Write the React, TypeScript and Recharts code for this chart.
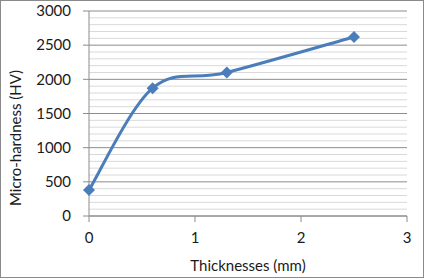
import React from 'react';
import { LineChart, Line, XAxis, YAxis, CartesianGrid, Label, ReferenceLine } from 'recharts';

const thickness = [0, 0.6, 1.3, 2.5];
const hardness = [380, 1870, 2100, 2620];
const xTicks = [0, 1, 2, 3];
const yTicks = [0, 500, 1000, 1500, 2000, 2500, 3000];
const yMinorTicks = Array.from({ length: 31 }, (_, i) => i * 100).filter((v) => v % 500 !== 0);

const data = thickness.map((t, i) => ({ t, hv: hardness[i] }));

const font = 'Lato, "Open Sans", sans-serif';
const blue = '#4A7EBB';
const textColor = '#1a1a1a';

// Excel-like smoothed line (Catmull-Rom style bezier)
const excelSmooth = (context: any) => {
  let pts: number[][] = [];
  return {
    areaStart() {},
    areaEnd() {},
    lineStart() {
      pts = [];
    },
    point(x: number, y: number) {
      pts.push([x, y]);
    },
    lineEnd() {
      if (!pts.length) return;
      context.moveTo(pts[0][0], pts[0][1]);
      for (let i = 0; i < pts.length - 1; i++) {
        const p0 = pts[i - 1] || pts[i];
        const p1 = pts[i];
        const p2 = pts[i + 1];
        const p3 = pts[i + 2] || pts[i + 1];
        context.bezierCurveTo(
          p1[0] + (p2[0] - p0[0]) / 6,
          p1[1] + (p2[1] - p0[1]) / 6,
          p2[0] - (p3[0] - p1[0]) / 6,
          p2[1] - (p3[1] - p1[1]) / 6,
          p2[0],
          p2[1]
        );
      }
    },
  };
};

const Diamond = (props: any) => {
  const { cx, cy, index } = props;
  const r = 6;
  return (
    <polygon
      key={index}
      points={`${cx},${cy - r} ${cx + r},${cy} ${cx},${cy + r} ${cx - r},${cy}`}
      fill={blue}
    />
  );
};

const tickStyle = { fill: textColor, fontSize: 15, fontFamily: font };

export default function App() {
  return (
    <div
      style={{
        position: 'absolute',
        left: 0,
        top: 0,
        width: 424,
        height: 278,
        boxSizing: 'border-box',
        border: '1px solid #8a8a8a',
        background: '#fff',
      }}
    >
      <div style={{ position: 'absolute', left: -1, top: -1 }}>
        <LineChart width={424} height={278} data={data} margin={{ top: 11, right: 17, bottom: 0, left: 0 }}>
          <CartesianGrid yAxisId="main" vertical={false} stroke="#8c8c8c" />
          {yMinorTicks.map((v) => (
            <ReferenceLine key={v} yAxisId="main" y={v} stroke="#d9d9d9" />
          ))}
          <XAxis
            dataKey="t"
            type="number"
            domain={[0, 3]}
            ticks={xTicks}
            height={62}
            stroke="#8c8c8c"
            tickSize={6}
            tickMargin={10}
            tick={tickStyle}
          >
            <Label
              value="Thicknesses (mm)"
              position="insideBottom"
              offset={7}
              style={{ fill: textColor, fontSize: 15, fontFamily: font }}
            />
          </XAxis>
          <YAxis
            yAxisId="main"
            type="number"
            domain={[0, 3000]}
            ticks={yTicks}
            width={89}
            stroke="#8c8c8c"
            tickSize={6}
            tickMargin={12}
            tick={tickStyle}
          >
            <Label
              content={() => (
                <text
                  x={15}
                  y={138}
                  transform="rotate(-90, 15, 138)"
                  textAnchor="middle"
                  dominantBaseline="central"
                  style={{ fill: textColor, fontSize: 15, fontFamily: font }}
                >
                  Micro-hardness (HV)
                </text>
              )}
            />
          </YAxis>
          <Line
            yAxisId="main"
            dataKey="hv"
            type={excelSmooth as any}
            stroke={blue}
            strokeWidth={3}
            dot={Diamond}
            activeDot={false}
            isAnimationActive={false}
          />
        </LineChart>
      </div>
    </div>
  );
}
